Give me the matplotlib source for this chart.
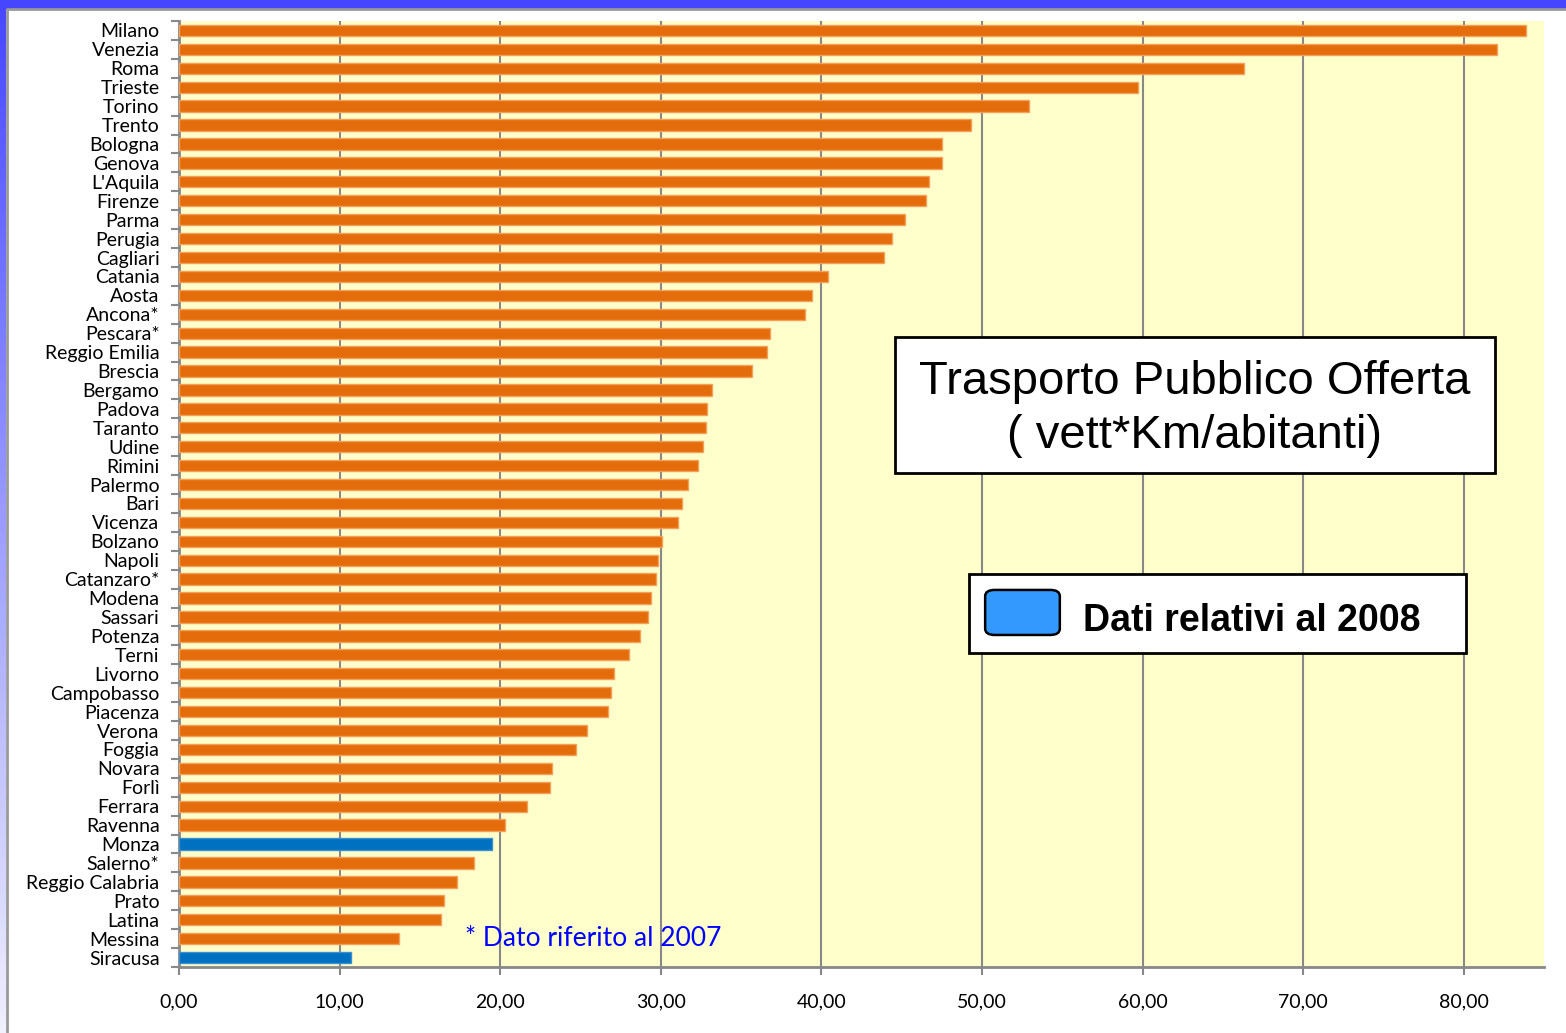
import numpy as np
import matplotlib.pyplot as plt
from matplotlib.patches import FancyBboxPatch, Rectangle

cities = ["Milano", "Venezia", "Roma", "Trieste", "Torino", "Trento", "Bologna", "Genova",
          "L'Aquila", "Firenze", "Parma", "Perugia", "Cagliari", "Catania", "Aosta", "Ancona*",
          "Pescara*", "Reggio Emilia", "Brescia", "Bergamo", "Padova", "Taranto", "Udine",
          "Rimini", "Palermo", "Bari", "Vicenza", "Bolzano", "Napoli", "Catanzaro*", "Modena",
          "Sassari", "Potenza", "Terni", "Livorno", "Campobasso", "Piacenza", "Verona",
          "Foggia", "Novara", "Forlì", "Ferrara", "Ravenna", "Monza", "Salerno*",
          "Reggio Calabria", "Prato", "Latina", "Messina", "Siracusa"]
values = [83.9, 82.1, 66.3, 59.7, 52.9, 49.3, 47.5, 47.5,
          46.7, 46.5, 45.2, 44.4, 43.9, 40.4, 39.4, 39.0,
          36.8, 36.6, 35.7, 33.2, 32.9, 32.8, 32.6,
          32.3, 31.7, 31.3, 31.1, 30.1, 29.8, 29.7, 29.4,
          29.2, 28.7, 28.0, 27.1, 26.9, 26.7, 25.4,
          24.7, 23.2, 23.1, 21.7, 20.3, 19.5, 18.4,
          17.3, 16.5, 16.3, 13.7, 10.7]
dati_2008 = ["Monza", "Siracusa"]
xticks = [0, 10, 20, 30, 40, 50, 60, 70, 80]

fig = plt.figure(figsize=(15.66, 10.33), dpi=100)

# cornice blu in alto e sfumatura a sinistra
bg = fig.add_axes([0, 0, 1, 1])
bg.axis("off")
bg.add_patch(Rectangle((0, 0), 1566, 8, color="#4646ff"))
grad = np.linspace(0, 1, 256).reshape(-1, 1)
cmap = plt.matplotlib.colors.LinearSegmentedColormap.from_list("b", ["#4646ff", "#f0f0ff"])
bg.imshow(grad, extent=(0, 6, 1033, 0), cmap=cmap, aspect="auto")
bg.plot([6.5, 6.5, 1566], [1033, 8.5, 8.5], color="#999999", lw=2)
bg.set_xlim(0, 1566)
bg.set_ylim(1033, 0)

ax = fig.add_axes([179 / 1566, 1 - 967 / 1033, (1544 - 179) / 1566, (967 - 21) / 1033])
ax.set_facecolor("#ffffcc")
y = np.arange(len(cities))
colors = ["#0070c0" if c in dati_2008 else "#e46c0a" for c in cities]
edges = ["#3d8fd1" if c in dati_2008 else "#f5a05a" for c in cities]
ax.barh(y, values, height=0.6, color=colors, edgecolor=edges, linewidth=1, zorder=3)
ax.set_ylim(len(cities) - 0.5, -0.5)
ax.set_xlim(0, 85)
ax.set_xticks(xticks)
ax.set_xticklabels([f"{v},00" for v in xticks])
ax.set_yticks(y)
ax.set_yticklabels(cities)
ax.set_yticks(np.arange(len(cities) + 1) - 0.5, minor=True)
ax.tick_params(axis="y", which="major", length=0, pad=14, labelsize=14)
ax.tick_params(axis="y", which="minor", length=6, width=1.5, color="#888888")
ax.tick_params(axis="x", length=6, width=1.5, color="#888888", pad=13, labelsize=14)
for lab in ax.get_yticklabels() + ax.get_xticklabels():
    lab.set_family("Lato")
ax.xaxis.grid(True, color="#888888", lw=1.5, zorder=1)
ax.set_axisbelow(True)
for s in ["top", "right"]:
    ax.spines[s].set_visible(False)
for s in ["left", "bottom"]:
    ax.spines[s].set_color("#888888")
    ax.spines[s].set_linewidth(2)

# titolo nel riquadro
ax.add_patch(Rectangle((44.58, 16.2), 37.36, 7.19, fc="white", ec="black", lw=2, zorder=5))
ax.text(63.26, 20.02, "Trasporto Pubblico Offerta\n( vett*Km/abitanti)", ha="center", va="center",
        fontsize=34, family="Liberation Sans", linespacing=1.3, zorder=6)

# legenda
ax.add_patch(Rectangle((49.19, 28.73), 30.95, 4.17, fc="white", ec="black", lw=2, zorder=5))
ax.add_patch(FancyBboxPatch((50.2, 29.57), 4.65, 2.38, boxstyle="round,pad=0,rounding_size=0.6",
                            fc="#3399ff", ec="black", lw=1.8, zorder=6, mutation_aspect=0.55))
ax.text(56.29, 31.2, "Dati relativi al 2008", ha="left", va="center", fontsize=27,
        fontweight="bold", family="Liberation Sans", zorder=6)

# nota
ax.text(17.8, 48.0, "* Dato riferito al 2007", ha="left", va="center", fontsize=19,
        color="#0000ff", family="Lato", zorder=6)

fig.savefig("out.png", dpi=100)
